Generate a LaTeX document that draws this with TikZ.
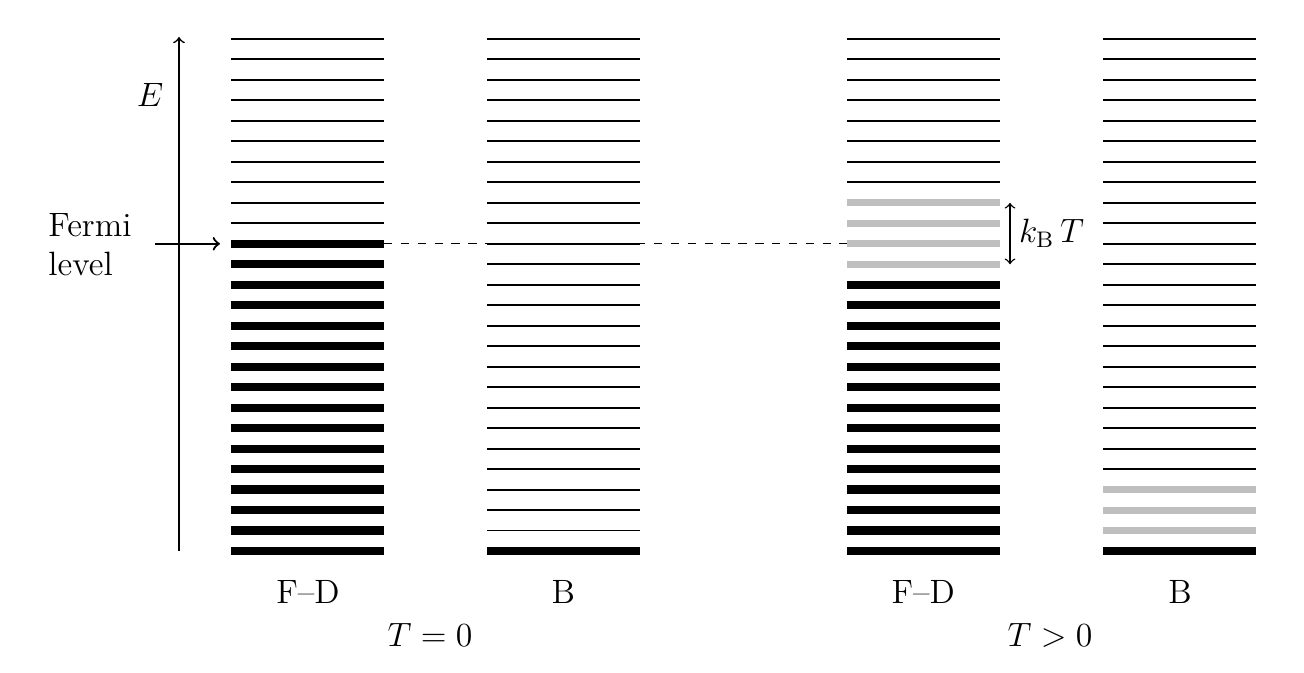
\documentclass[tikz,border=0pt]{standalone}
\usepackage{amsmath}
\usepackage{tikz}
\usetikzlibrary{positioning}

\begin{document}
\begin{tikzpicture}[font=\large,
	thin level/.style = {line width=0.7pt},
	full level/.style = {line width=2.9pt},
	part level/.style = {line width=2.5pt, draw=black!25},
	rest/.style = {draw=none, inner sep=1pt}]
\useasboundingbox (0,0) rectangle (16.3,8.4125);
\def\w{1.9125}
\def\d{0.256}
% T = 0, F-D
\foreach \i in {0,...,15} \draw[full level] (2.8875,{1.525+\d*\i}) -- ++(\w,0);
\foreach \i in {16,...,25} \draw[thin level] (2.8875,{1.525+\d*\i}) -- ++(\w,0);
% T = 0, B
\draw[full level] (6.0875,1.525) -- ++(\w,0);
\foreach \i in {1,...,25} \draw[thin level] (6.0875,{1.525+\d*\i}) -- ++(\w,0);
% T > 0, F-D
\foreach \i in {0,...,13} \draw[full level] (10.5875,{1.525+\d*\i}) -- ++(\w,0);
\foreach \i in {14,...,17} \draw[part level] (10.5875,{1.525+\d*\i}) -- ++(\w,0);
\foreach \i in {18,...,25} \draw[thin level] (10.5875,{1.525+\d*\i}) -- ++(\w,0);
% T > 0, B
\draw[full level] (13.7875,1.525) -- ++(\w,0);
\foreach \i in {1,...,3} \draw[part level] (13.7875,{1.525+\d*\i}) -- ++(\w,0);
\foreach \i in {4,...,25} \draw[thin level] (13.7875,{1.525+\d*\i}) -- ++(\w,0);

% energy axis
\coordinate (e0) at (2.2375,1.525);
\coordinate (e1) at (2.2375,7.95);
\draw[->, line width=0.6pt] (e0) -- (e1);
\node[rest] (E) at (1.875,7.225) {$E$};

% Fermi level
\node[rest, align=left] (fermi) at (1.125,5.35) {Fermi\\level};
\coordinate (f0) at (1.9375,{1.525+15*\d});
\coordinate (f1) at (2.75,{1.525+15*\d});
\coordinate (f2) at (4.8,{1.525+15*\d});
\coordinate (f3) at (10.5875,{1.525+15*\d});
\draw[->, line width=0.8pt] (f0) -- (f1);
\draw[dashed, line width=0.5pt] (f2) -- (f3);

% thermal spread
\coordinate (k0) at (12.625,{1.525+17*\d});
\coordinate (k1) at (12.625,{1.525+14*\d});
\coordinate (km) at (12.625,{1.525+15.5*\d});
\draw[<->, line width=0.5pt] (k0) -- (k1);
\node[rest, right=2pt of km] (kT) {$k_{\mathrm{B}}\,T$};

% labels
\node[rest] (fd0) at (3.85,1.0125) {F--D};
\node[rest] (b0) at (7.04,1.0125) {B};
\node[rest] (t0) at (5.375,0.475) {$T = 0$};
\node[rest] (fd1) at (11.54,1.0125) {F--D};
\node[rest] (b1) at (14.75,1.0125) {B};
\node[rest] (t1) at (13.125,0.475) {$T > 0$};
\end{tikzpicture}
\end{document}
